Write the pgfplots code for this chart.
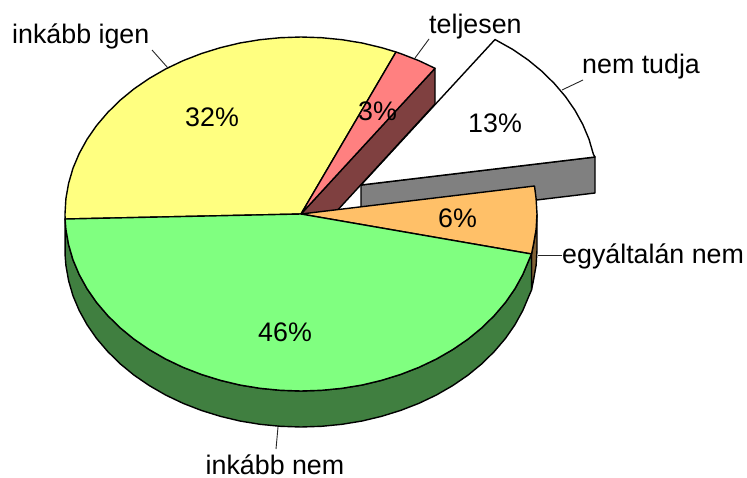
\documentclass[border=0pt]{standalone}
\usepackage{fontspec}
\setmainfont{Liberation Sans}
\usepackage{pgfplots}
\pgfplotsset{compat=1.18}

\definecolor{igen}{HTML}{FFFF80}
\definecolor{telj}{HTML}{FF8080}
\definecolor{telja}{HTML}{7F4040}
\definecolor{nem}{HTML}{80FF80}
\definecolor{nema}{HTML}{407F40}
\definecolor{egy}{HTML}{FFC068}
\definecolor{egya}{HTML}{806034}
\tikzset{lab/.style={anchor=base west, inner sep=0pt, font=\fontsize{26.8}{30}\selectfont}}

\begin{document}
\begin{tikzpicture}
\useasboundingbox (0,0) rectangle (747pt,477pt);
\begin{axis}[
    anchor=south west, at={(0,0)},
    scale only axis, width=747pt, height=477pt,
    xmin=0, xmax=747, ymin=0, ymax=477,
    y dir=reverse,
    hide axis, clip=false,
    every axis plot/.append style={line width=1.4pt, draw=black, line join=round},
]
% kiemelt szelet: nem tudja (oldal + teto)
\addplot[fill=gray] coordinates {(361,185) (595,157) (595,193) (361,221)} -- cycle;
\addplot[fill=white] coordinates {
    (361,185) (495,39.5) (512.7,49.4) (527.9,59.8) (541.8,71.2) (554.3,83.5)
    (565.4,96.5) (574.9,110.2) (582.8,124.5) (589,139.2) (593.4,154.3) (595,157)} -- cycle;

% teljesen oldal
\addplot[fill=telja] coordinates {(301,214) (435,68.3) (435,104) (301,250)} -- cycle;

% egyaltalan nem oldal
\addplot[fill=egya] coordinates {
    (537,214) (536.1,229.4) (533.4,244.7) (531.5,254)
    (531.5,290) (533.4,280.7) (536.1,265.4) (537,250)} -- cycle;

% inkabb nem oldal
\addplot[fill=nema] coordinates {
    (531.5,254) (529,259.8) (522.8,274.5) (514.9,288.8) (505.4,302.5) (494.3,315.5)
    (481.8,327.8) (467.9,339.2) (452.7,349.6) (436.4,359) (419,367.3) (400.7,374.4)
    (381.7,380.3) (362.1,385) (342,388.3) (321.6,390.3) (301,391) (280.4,390.3)
    (260,388.3) (239.9,385) (220.3,380.3) (201.3,374.4) (183,367.3) (165.6,359)
    (149.3,349.6) (134.1,339.2) (120.2,327.8) (107.7,315.5) (96.6,302.5) (87.1,288.8)
    (79.2,274.5) (73,259.8) (68.6,244.7) (65.9,229.4) (65.1,219)
    (65.1,255) (65.9,265.4) (68.6,280.7) (73,295.8) (79.2,310.5) (87.1,324.8)
    (96.6,338.5) (107.7,351.5) (120.2,363.8) (134.1,375.2) (149.3,385.6) (165.6,395)
    (183,403.3) (201.3,410.4) (220.3,416.3) (239.9,421) (260,424.3) (280.4,426.3)
    (301,427) (321.6,426.3) (342,424.3) (362.1,421) (381.7,416.3) (400.7,410.4)
    (419,403.3) (436.4,395) (452.7,385.6) (467.9,375.2) (481.8,363.8) (494.3,351.5)
    (505.4,338.5) (514.9,324.8) (522.8,310.5) (529,295.8) (531.5,290)} -- cycle;

% tetolapok
\addplot[fill=igen] coordinates {
    (301,214) (65.1,219) (65,214) (65.9,198.6) (68.6,183.3) (73,168.2) (79.2,153.5)
    (87.1,139.2) (96.6,125.5) (107.7,112.5) (120.2,100.2) (134.1,88.8) (149.3,78.4)
    (165.6,69) (183,60.7) (201.3,53.6) (220.3,47.7) (239.9,43) (260,39.7) (280.4,37.7)
    (301,37) (321.6,37.7) (342,39.7) (362.1,43) (381.7,47.7) (396,52)} -- cycle;
\addplot[fill=telj] coordinates {
    (301,214) (396,52) (400.7,53.6) (419,60.7) (435,68.3)} -- cycle;
\addplot[fill=egy] coordinates {
    (301,214) (534.5,186) (536.1,198.6) (537,214) (536.1,229.4) (533.4,244.7) (531.5,254)} -- cycle;
\addplot[fill=nem] coordinates {
    (301,214) (531.5,254) (529,259.8) (522.8,274.5) (514.9,288.8) (505.4,302.5) (494.3,315.5)
    (481.8,327.8) (467.9,339.2) (452.7,349.6) (436.4,359) (419,367.3) (400.7,374.4)
    (381.7,380.3) (362.1,385) (342,388.3) (321.6,390.3) (301,391) (280.4,390.3)
    (260,388.3) (239.9,385) (220.3,380.3) (201.3,374.4) (183,367.3) (165.6,359)
    (149.3,349.6) (134.1,339.2) (120.2,327.8) (107.7,315.5) (96.6,302.5) (87.1,288.8)
    (79.2,274.5) (73,259.8) (68.6,244.7) (65.9,229.4) (65.1,219)} -- cycle;

% vezetovonalak
\addplot[line width=0.9pt, draw=black!85] coordinates {(167.7,67.7) (152,50)};
\addplot[line width=0.9pt, draw=black!85] coordinates {(415,58) (429,39)};
\addplot[line width=0.9pt, draw=black!85] coordinates {(562,90) (583,80)};
\addplot[line width=0.9pt, draw=black!85] coordinates {(538,255) (562,255)};
\addplot[line width=0.9pt, draw=black!85] coordinates {(278,427) (276,449)};

\node[lab] at (axis cs:12,43) {inkább igen};
\node[lab] at (axis cs:429,33) {teljesen};
\node[lab] at (axis cs:582,73.7) {nem tudja};
\node[lab] at (axis cs:562,263) {egyáltalán nem};
\node[lab] at (axis cs:205.5,474) {inkább nem};
\node[lab] at (axis cs:185,126) {32\%};
\node[lab] at (axis cs:358,120) {3\%};
\node[lab] at (axis cs:468,132) {13\%};
\node[lab] at (axis cs:438,227) {6\%};
\node[lab] at (axis cs:258,341) {46\%};
\end{axis}
\end{tikzpicture}
\end{document}
